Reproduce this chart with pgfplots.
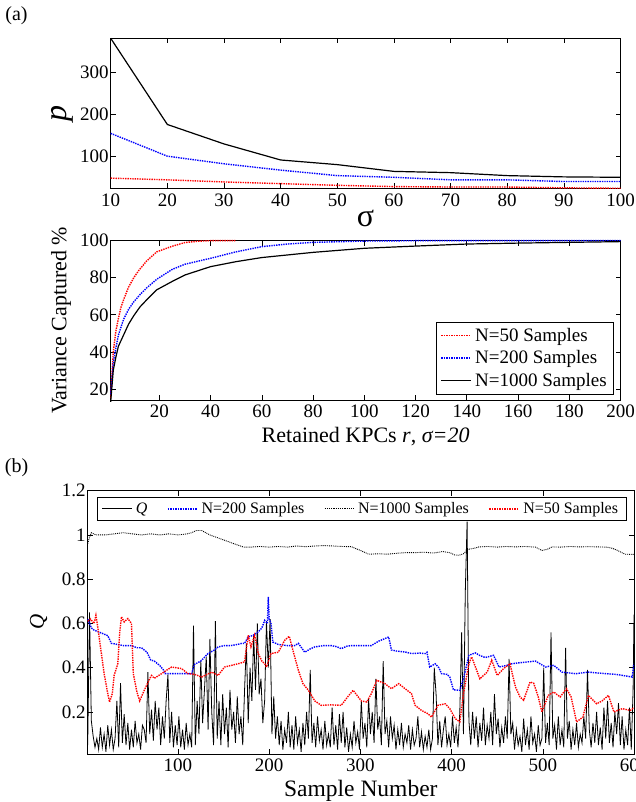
\documentclass[border=0pt]{standalone}
\usepackage{fontspec}
\setmainfont{Liberation Serif}
\usepackage{pgfplots}
\pgfplotsset{compat=1.18}
\newcommand\tickfont{\fontsize{19}{22}\selectfont}
\newcommand\legfont{\fontsize{16}{18}\selectfont}
\pgfplotsset{
  base/.style={scale only axis, anchor=south west,
    axis line style={line width=0.9pt},
    tick align=inside, major tick length=5pt,
    tick style={line width=0.6pt,black},
    tick label style={font=\tickfont},
    /pgf/number format/assume math mode=true,
    yticklabel style={inner xsep=2pt},
    xticklabel style={inner ysep=5pt},
    legend image code/.code={\draw[#1] (0pt,0pt) -- (30pt,0pt);}},
  reddot/.style={color=red, line width=1.4pt, densely dotted},
  bluedot/.style={color=blue, line width=1.4pt, densely dotted},
  blk/.style={color=black, line width=1.2pt, solid},
  qline/.style={color=black, line width=0.8pt, solid},
  blkdot/.style={color=black, line width=0.9pt, densely dotted},
}
\begin{document}
\begin{tikzpicture}
\node[font=\fontsize{20}{22}\selectfont] at (16.5pt,786pt) {(a)};
\node[font=\fontsize{20}{22}\selectfont] at (16.5pt,334pt) {(b)};
% ---------------- panel 1
\begin{axis}[base, at={(110.7pt,613.7pt)}, width=509.8pt, height=150pt,
  xmin=10, xmax=100, ymin=25, ymax=380, clip=false,
  xtick={10,20,...,100}, ytick={100,200,300},
  xlabel={\fontsize{32}{36}\selectfont σ},
  xlabel style={at={(axis description cs:0.5,-0.20)}, anchor=center},
  ylabel={\fontsize{32}{36}\selectfont\itshape p},
  ylabel style={at={(axis description cs:-0.094,0.5)}, anchor=center}]
\addplot[reddot] coordinates {(10,49)(20,45)(30,40)(40,36)(50,32)(60,29)(70,28)(80,28)(90,26)(100,25)};
\addplot[bluedot] coordinates {(10,155)(20,101)(30,83)(40,68)(50,55)(60,51)(70,45)(80,45)(90,41)(100,41)};
\addplot[blk] coordinates {(10,380)(20,176)(30,130)(40,92)(50,81)(60,65)(70,62)(80,55)(90,52)(100,51)};
\end{axis}
% ---------------- panel 2
\begin{axis}[base, at={(110.7pt,402pt)}, width=509.8pt, height=159.3pt,
  xmin=1, xmax=200, ymin=14, ymax=100, clip=false,
  xtick={20,40,...,200}, ytick={20,40,...,100},
  xlabel={\fontsize{22}{26}\selectfont Retained KPCs \textit{r}, \textit{σ=20}},
  xlabel style={at={(axis description cs:0.5,-0.23)}, anchor=center},
  ylabel={\fontsize{22}{26}\selectfont Variance Captured \%},
  ylabel style={at={(axis description cs:-0.0974,0.5)}, anchor=center},
  legend cell align=left,
  legend style={at={(0.987,0.038)}, anchor=south east, font=\tickfont,
    draw=black, inner xsep=4pt, inner ysep=2pt,
    nodes={inner xsep=3pt, inner ysep=3.9pt}}]
\addlegendimage{red, line width=1.8pt, dash pattern=on 1.5pt off 1pt}
\addlegendentry{N=50 Samples}
\addlegendimage{blue, line width=1.8pt, dash pattern=on 1.5pt off 1pt}
\addlegendentry{N=200 Samples}
\addlegendimage{black, line width=1.2pt, solid}
\addlegendentry{N=1000 Samples}
\addplot[reddot, forget plot] coordinates {(1,15)(2,40)(3,51)(4,58)(5,64)(6,68)(8,75)(10,80)(12,84)(15,89)(19,94)(25,97)(30,99)(35,99.7)(40,100)(50,100)};
\addplot[bluedot, forget plot] coordinates {(1,17)(2,34)(3,42)(4,49)(6,57.5)(8,63)(10,67)(12.4,70.8)(15,74.5)(19,79.2)(25,84.5)(30,87.3)(40,90.5)(50,94)(60,96.8)(70,98.2)(80,99.1)(100,99.8)(120,100)(200,100)};
\addplot[blk, forget plot] coordinates {(1,13)(2,30)(3,37)(4,43)(6,49)(8,55)(10,59.5)(12.4,64.2)(15,68)(19,73.5)(25,78)(30,81.5)(40,86)(50,88.7)(60,90.9)(80,93.7)(100,95.9)(120,97.1)(140,98.2)(160,98.7)(180,99.1)(200,99.5)};
\end{axis}
% ---------------- panel 3
\begin{axis}[base, at={(87.7pt,48pt)}, width=546.3pt, height=263.3pt,
  xmin=1, xmax=600, ymin=0.01, ymax=1.2,
  xtick={100,200,...,600}, ytick={0.2,0.4,0.6,0.8,1,1.2},
  yticklabels={0.2,0.4,0.6,0.8,1,1.2},
  xlabel={\fontsize{23.5}{27}\selectfont Sample Number},
  xlabel style={at={(axis description cs:0.5,-0.1405)}, anchor=center},
  ylabel={\fontsize{21}{24}\selectfont\itshape Q},
  ylabel style={at={(axis description cs:-0.090,0.5)}, anchor=center},
  legend columns=4,
  legend style={at={(0.0165,0.977)}, anchor=north west, font=\legfont,
    draw=black, inner xsep=5pt, inner ysep=1pt,
    nodes={inner xsep=3pt, inner ysep=4.5pt},
    /tikz/every even column/.append style={column sep=16.5pt}}]
\addlegendimage{black, line width=0.9pt, solid}
\addlegendentry{\textit{Q}}
\addlegendimage{blue, line width=1.8pt, dash pattern=on 1.5pt off 1pt}
\addlegendentry{N=200 Samples}
\addlegendimage{black, line width=1.2pt, dash pattern=on 1.2pt off 1pt}
\addlegendentry{N=1000 Samples}
\addlegendimage{red, line width=1.8pt, dash pattern=on 1.5pt off 1pt}
\addlegendentry{N=50 Samples\hspace{12pt}}
\addplot[qline, forget plot] coordinates {(1,0.05)(3,0.65)(5,0.16)(7,0.09)(9,0.04)(11,0.08)(13,0.03)(15,0.13)(17,0.04)(19,0.10)(21,0.02)(23,0.14)(25,0.05)(27,0.12)(29,0.03)
(31,0.08)(33,0.25)(35,0.04)(37,0.33)(39,0.06)(41,0.19)(43,0.05)(45,0.15)(47,0.03)(49,0.12)(51,0.04)(53,0.16)(55,0.06)(57,0.10)(59,0.03)
(61,0.14)(63,0.12)(65,0.06)(67,0.38)(69,0.10)(71,0.21)(73,0.07)(75,0.25)(77,0.12)(79,0.22)(81,0.05)(83,0.18)(85,0.08)(87,0.25)(89,0.37)
(91,0.06)(93,0.20)(95,0.04)(97,0.14)(99,0.05)(101,0.18)(103,0.04)(105,0.12)(107,0.03)(109,0.15)(111,0.05)(113,0.10)(115,0.04)(117,0.59)(119,0.05)
(121,0.25)(123,0.10)(125,0.43)(127,0.15)(129,0.30)(131,0.45)(133,0.12)(135,0.53)(137,0.20)(139,0.05)(141,0.61)(143,0.08)(145,0.25)(147,0.05)(149,0.28)
(151,0.10)(153,0.22)(155,0.04)(157,0.30)(159,0.12)(161,0.20)(163,0.06)(165,0.27)(167,0.10)(169,0.18)(171,0.05)(173,0.30)(175,0.51)(177,0.15)(179,0.40)
(181,0.25)(183,0.55)(185,0.30)(187,0.60)(189,0.28)(191,0.35)(193,0.15)(195,0.25)(197,0.61)(199,0.40)(201,0.62)(203,0.10)(205,0.27)(207,0.08)(209,0.18)
(211,0.05)(213,0.16)(215,0.03)(217,0.12)(219,0.06)(221,0.20)(223,0.04)(225,0.14)(227,0.03)(229,0.18)(231,0.06)(233,0.12)(235,0.02)(237,0.15)(239,0.05)
(241,0.20)(243,0.08)(245,0.39)(247,0.06)(249,0.15)(251,0.04)(253,0.18)(255,0.07)(257,0.12)(259,0.03)(261,0.16)(263,0.05)(265,0.10)(267,0.04)(269,0.22)
(271,0.05)(273,0.14)(275,0.03)(277,0.19)(279,0.06)(281,0.20)(283,0.04)(285,0.13)(287,0.02)(289,0.10)(291,0.04)(293,0.16)(295,0.06)(297,0.11)(299,0.03)
(301,0.25)(303,0.08)(305,0.15)(307,0.04)(309,0.26)(311,0.10)(313,0.20)(315,0.06)(317,0.35)(319,0.12)(321,0.18)(323,0.05)(325,0.43)(327,0.10)(329,0.16)
(331,0.04)(333,0.18)(335,0.08)(337,0.14)(339,0.03)(341,0.12)(343,0.05)(345,0.15)(347,0.04)(349,0.10)(351,0.06)(353,0.14)(355,0.03)(357,0.12)(359,0.05)
(361,0.08)(363,0.18)(365,0.04)(367,0.11)(369,0.03)(371,0.09)(373,0.04)(375,0.12)(377,0.03)(379,0.08)(381,0.40)(383,0.28)(385,0.05)(387,0.16)(389,0.04)
(391,0.12)(393,0.18)(395,0.05)(397,0.10)(399,0.04)(401,0.18)(403,0.06)(405,0.13)(407,0.04)(409,0.20)(411,0.56)(413,0.10)(415,0.74)(417,1.06)(419,0.16)
(421,0.05)(423,0.20)(425,0.08)(427,0.18)(429,0.04)(431,0.15)(433,0.07)(435,0.22)(437,0.05)(439,0.14)(441,0.08)(443,0.20)(445,0.05)(447,0.28)(449,0.10)
(451,0.17)(453,0.04)(455,0.13)(457,0.06)(459,0.18)(461,0.08)(463,0.44)(465,0.10)(467,0.15)(469,0.03)(471,0.12)(473,0.05)(475,0.09)(477,0.02)(479,0.17)
(481,0.05)(483,0.12)(485,0.03)(487,0.18)(489,0.06)(491,0.10)(493,0.02)(495,0.14)(497,0.05)(499,0.08)(501,0.40)(503,0.06)(505,0.15)(507,0.05)(509,0.56)
(511,0.08)(513,0.14)(515,0.03)(517,0.18)(519,0.05)(521,0.12)(523,0.04)(525,0.49)(527,0.08)(529,0.16)(531,0.03)(533,0.12)(535,0.05)(537,0.15)(539,0.04)
(541,0.10)(543,0.06)(545,0.18)(547,0.08)(549,0.39)(551,0.12)(553,0.04)(555,0.15)(557,0.06)(559,0.20)(561,0.05)(563,0.13)(565,0.03)(567,0.22)(569,0.08)
(571,0.25)(573,0.06)(575,0.15)(577,0.04)(579,0.20)(581,0.10)(583,0.24)(585,0.05)(587,0.18)(589,0.03)(591,0.12)(593,0.05)(595,0.22)(597,0.03)(599,0.30)(600,0.64)};
\addplot[bluedot, forget plot] coordinates {(1,0.62)(5,0.58)(8,0.57)(14,0.56)(20,0.55)(23,0.545)(27,0.51)(34,0.505)(40,0.50)(49,0.50)(55,0.49)(60,0.49)(66,0.47)(70,0.435)(74,0.43)(80,0.41)(84,0.39)(86,0.373)(100,0.373)(115,0.373)(118,0.415)(125,0.43)(133,0.464)(140,0.48)(144,0.494)(151,0.50)(158,0.50)(165,0.505)(170,0.51)(173,0.51)(177,0.54)(182,0.545)(188,0.562)(192,0.58)(195,0.614)(198,0.60)(199,0.72)(200,0.62)(202,0.60)(204,0.516)(210,0.505)(220,0.50)(228,0.50)(232,0.51)(239,0.47)(245,0.485)(250,0.494)(260,0.50)(268,0.50)(274,0.495)(279,0.486)(285,0.497)(290,0.50)(300,0.50)(312,0.50)(320,0.52)(326,0.53)(331,0.539)(334,0.48)(340,0.475)(349,0.471)(356,0.464)(365,0.466)(371,0.464)(373,0.47)(376,0.403)(382,0.418)(386,0.40)(389,0.373)(395,0.37)(398,0.358)(402,0.30)(409,0.298)(413,0.35)(419,0.456)(426,0.467)(431,0.455)(437,0.446)(446,0.456)(452,0.403)(460,0.41)(466,0.418)(480,0.425)(492,0.43)(503,0.403)(512,0.411)(521,0.38)(536,0.373)(550,0.38)(569,0.373)(580,0.37)(598,0.358)(600,0.418)};
\addplot[blkdot, forget plot] coordinates {(1,0.96)(3,0.99)(5,1.01)(10,1.0)(20,1.0)(30,1.005)(40,1.01)(50,1.005)(60,1.0)(70,1.005)(80,1.0)(90,1.005)(100,1.0)(110,1.005)(115,1.01)(120,1.02)(126,1.02)(135,1.0)(145,0.985)(155,0.97)(165,0.955)(172,0.945)(180,0.945)(190,0.948)(200,0.945)(210,0.948)(220,0.945)(230,0.95)(240,0.947)(250,0.95)(260,0.952)(270,0.95)(280,0.948)(290,0.947)(300,0.93)(309,0.913)(320,0.915)(330,0.913)(342,0.918)(350,0.92)(360,0.92)(370,0.922)(380,0.918)(390,0.925)(398,0.92)(403,0.91)(408,0.908)(413,0.915)(418,0.935)(425,0.94)(430,0.946)(440,0.948)(450,0.945)(460,0.948)(470,0.946)(480,0.948)(492,0.945)(499,0.93)(505,0.935)(510,0.946)(520,0.945)(530,0.948)(540,0.946)(550,0.947)(560,0.946)(570,0.945)(576,0.94)(582,0.93)(590,0.913)(600,0.912)};
\addplot[reddot, forget plot] coordinates {(1,0.61)(4,0.62)(8,0.60)(10,0.637)(12,0.584)(16,0.464)(19,0.373)(23,0.283)(25,0.245)(28,0.283)(30,0.365)(34,0.418)(36,0.554)(38,0.63)(41,0.607)(45,0.622)(49,0.60)(51,0.373)(55,0.29)(58,0.25)(63,0.298)(69,0.35)(71,0.365)(74,0.352)(82,0.373)(88,0.39)(93,0.403)(98,0.40)(104,0.396)(111,0.373)(118,0.37)(126,0.358)(132,0.37)(137,0.38)(144,0.365)(151,0.403)(158,0.41)(166,0.418)(173,0.426)(177,0.547)(180,0.494)(184,0.547)(188,0.464)(192,0.43)(195,0.418)(197,0.403)(202,0.464)(210,0.47)(217,0.524)(222,0.542)(226,0.479)(232,0.388)(237,0.328)(243,0.298)(250,0.25)(257,0.23)(268,0.232)(279,0.23)(286,0.268)(292,0.298)(301,0.25)(307,0.245)(312,0.283)(318,0.343)(327,0.328)(334,0.305)(342,0.328)(349,0.305)(356,0.283)(360,0.23)(367,0.207)(374,0.192)(378,0.177)(385,0.23)(393,0.237)(398,0.215)(404,0.17)(409,0.155)(413,0.283)(419,0.418)(422,0.449)(431,0.35)(439,0.38)(444,0.434)(450,0.365)(457,0.396)(464,0.418)(470,0.313)(475,0.268)(479,0.253)(486,0.335)(490,0.33)(495,0.268)(499,0.20)(506,0.275)(512,0.29)(519,0.268)(526,0.305)(531,0.268)(537,0.155)(544,0.177)(550,0.275)(559,0.237)(565,0.25)(572,0.275)(578,0.20)(587,0.215)(596,0.207)(600,0.22)};
\end{axis}
\pgfresetboundingbox
\path[use as bounding box] (0pt,0pt) rectangle (635pt,802pt);
\end{tikzpicture}
\end{document}
